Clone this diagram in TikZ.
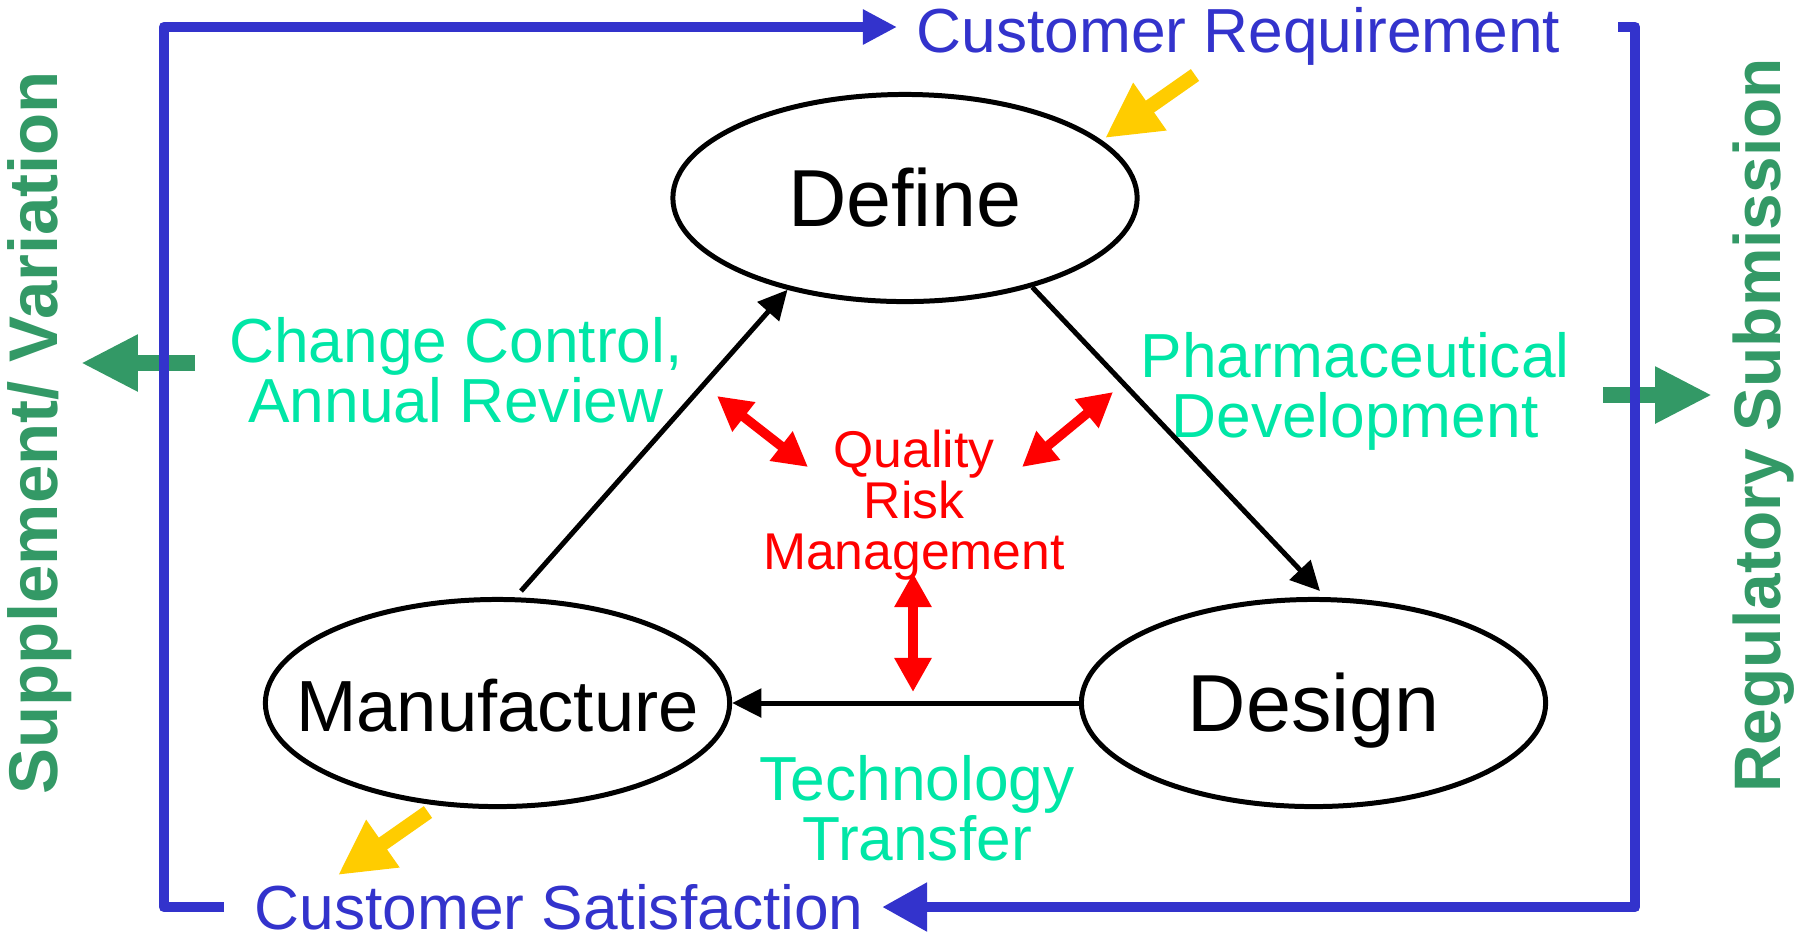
\documentclass[tikz,border=0pt]{standalone}
\usepackage{fontspec}
\setmainfont{Liberation Sans}
\usetikzlibrary{arrows.meta,shapes.geometric}
\definecolor{loop_blue}{RGB}{51, 51, 204}
\definecolor{act_green}{RGB}{0, 230, 166}
\definecolor{side_green}{RGB}{51, 153, 102}
\definecolor{risk_red}{RGB}{255, 0, 0}
\definecolor{hint_yellow}{RGB}{255, 204, 0}
\tikzstyle{stage}=[ellipse,draw=black,line width=1.42pt,inner sep=0pt,
  minimum width=4.64cm,minimum height=2.07cm,text depth=0pt,text height=16pt,
  font=\fontsize{23}{23}\selectfont]
\tikzstyle{flow}=[draw=black,line width=1.42pt,>={Triangle[length=8.3pt,width=8pt]},->]
\tikzstyle{risk}=[draw=risk_red,line width=2.7pt,>={Triangle[length=9.7pt,width=10pt]},<->]
\tikzstyle{hint}=[draw=hint_yellow,line width=4.1pt,>={Triangle[length=15.6pt,width=15.4pt]},->]
\tikzstyle{outflow}=[draw=side_green,line width=4.55pt,>={Triangle[length=16.2pt,width=15.1pt]},->]
\tikzstyle{qloop}=[draw=loop_blue,line width=3.1pt,line join=round]
\tikzstyle{cust}=[text=loop_blue,inner sep=0pt,font=\fontsize{17.7}{17.07}\selectfont]
\tikzstyle{act}=[text=act_green,inner sep=0pt,align=center,font=\fontsize{17.7}{17.07}\selectfont]
\tikzstyle{qrm}=[text=risk_red,inner sep=0pt,align=center,font=\fontsize{14.7}{14.5}\selectfont]
\tikzstyle{side}=[text=side_green,inner sep=0pt,rotate=90]
\tikzstyle{none}=[]

\begin{document}
\begin{tikzpicture}[x=0.01cm, y=-0.01cm]
            \useasboundingbox (0, 0) rectangle (1795, 938);
            \node [style=stage] (define) at (905, 198) {\makebox[0pt]{Define}};
            \node [style=stage, font=\fontsize{20.6}{20.6}\selectfont] (manufacture) at (497.5, 703) {\makebox[0pt]{Manufacture}};
            \node [style=stage] (design) at (1313.5, 703) {\makebox[0pt]{Design}};
            \node [style=cust, anchor=base west] (custReq) at (916, 52) {Customer Requirement};
            \node [style=cust, anchor=base west] (custSat) at (254, 929) {Customer Satisfaction};
            \node [style=act, anchor=north] (change) at (456, 317) {Change Control,\\Annual Review};
            \node [style=act, anchor=north] (pharm) at (1355, 332) {Pharmaceutical\\Development};
            \node [style=act, anchor=north] (tech) at (917, 754.5) {Technology\\Transfer};
            \node [style=qrm, anchor=north] (qrm) at (914, 429.4) {Quality\\Risk\\Management};
            \node [style=side, anchor=base, font=\bfseries\fontsize{19.6}{19.6}\selectfont] (supplement) at (57, 433) {Supplement/ Variation};
            \node [style=side, anchor=base, font=\bfseries\fontsize{18.7}{18.7}\selectfont] (regulatory) at (1780, 425.5) {Regulatory Submission};
            \node [style=none] (mfgOut) at (521, 591) {};
            \node [style=none] (designIn) at (1320, 591) {};
            \node [style=none] (riskA) at (717, 396) {};
            \node [style=none] (riskB) at (808, 467) {};
            \node [style=none] (riskC) at (1113, 392) {};
            \node [style=none] (riskD) at (1022, 467) {};
            \node [style=none] (riskE) at (913, 573) {};
            \node [style=none] (riskF) at (913, 692) {};
            \node [style=none] (reqHint) at (1195, 75) {};
            \node [style=none] (reqHintTip) at (1105, 138) {};
            \node [style=none] (satHint) at (428, 812) {};
            \node [style=none] (satHintTip) at (338, 875) {};
            \node [style=none] (suppOut) at (195, 363) {};
            \node [style=none] (suppTip) at (81, 363) {};
            \node [style=none] (regOut) at (1603, 395) {};
            \node [style=none] (regTip) at (1712, 395) {};
            \node [style=none] (satOut) at (224, 907) {};
            \node [style=none] (loopBL) at (164, 907) {};
            \node [style=none] (loopTL) at (164, 27) {};
            \node [style=none] (reqIn) at (897, 27) {};
            \node [style=none] (reqOut) at (1618, 27) {};
            \node [style=none] (loopTR) at (1635, 27) {};
            \node [style=none] (loopBR) at (1635, 907) {};
            \node [style=none] (satIn) at (882, 907) {};
            \draw [style=flow] (mfgOut.center) to (define.218);
            \draw [style=flow] (define.325) to (designIn.center);
            \draw [style=flow] (design) to (manufacture);
            \draw [style=risk] (riskA.center) to (riskB.center);
            \draw [style=risk] (riskC.center) to (riskD.center);
            \draw [style=risk] (riskE.center) to (riskF.center);
            \draw [style=hint] (reqHint.center) to (reqHintTip.center);
            \draw [style=hint] (satHint.center) to (satHintTip.center);
            \draw [style=outflow] (suppOut.center) to (suppTip.center);
            \draw [style=outflow] (regOut.center) to (regTip.center);
            \draw [style=qloop, -{Triangle[length=9.7pt,width=9.4pt]}] (satOut.center) to (loopBL.center) to (loopTL.center) to (reqIn.center);
            \draw [style=qloop, -{Triangle[length=12.8pt,width=13.1pt]}] (reqOut.center) to (loopTR.center) to (loopBR.center) to (satIn.center);
    \end{tikzpicture}
\end{document}
